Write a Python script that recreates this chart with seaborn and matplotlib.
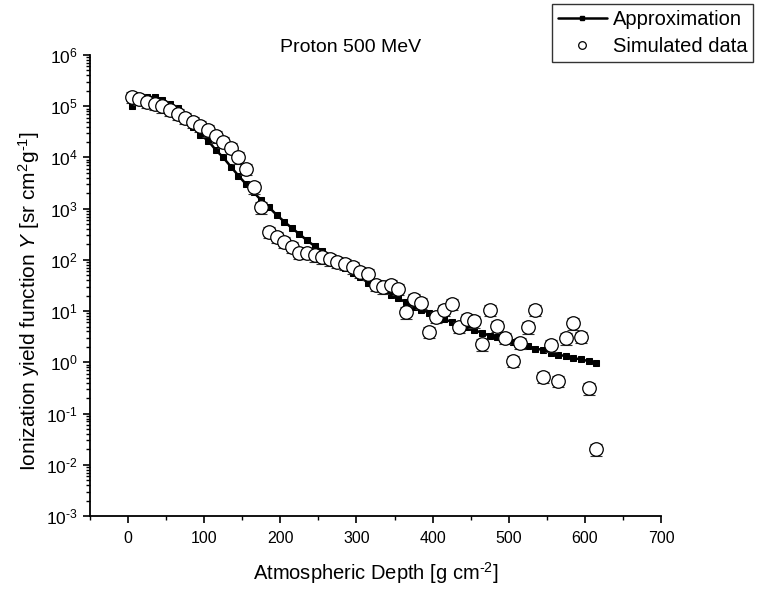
import numpy as np
import pandas as pd
import matplotlib
matplotlib.use("Agg")
import matplotlib.pyplot as plt
from matplotlib.lines import Line2D
from matplotlib.ticker import LogLocator, MultipleLocator, NullFormatter, FuncFormatter
import seaborn as sns

# Atmospheric depth [g cm^-2]
depth = [5, 15, 25, 35, 45, 55, 65, 75, 85, 95,
         105, 115, 125, 135, 145, 155, 165, 175, 185, 195,
         205, 215, 225, 235, 245, 255, 265, 275, 285, 295,
         305, 315, 325, 335, 345, 355, 365, 375, 385, 395,
         405, 415, 425, 435, 445, 455, 465, 475, 485, 495,
         505, 515, 525, 535, 545, 555, 565, 575, 585, 595,
         605, 615]

# Approximation of the yield function
approx = [1.0e5, 1.26e5, 1.51e5, 1.51e5, 1.35e5, 1.12e5, 9.3e4, 6.0e4, 4.0e4, 2.75e4,
          2.14e4, 1.41e4, 1.0e4, 6.6e3, 4.4e3, 3.0e3, 2.1e3, 1.45e3, 1.07e3, 760,
          560, 420, 320, 240, 186, 148, 117, 91, 71, 55,
          46, 36, 30, 25, 21, 17.8, 14.8, 12.3, 10.7, 9.3,
          7.9, 6.9, 6.2, 5.2, 4.8, 4.2, 3.8, 3.3, 3.1, 2.75,
          2.45, 2.24, 2.04, 1.86, 1.74, 1.55, 1.41, 1.32, 1.2, 1.15,
          1.05, 0.95]

# Simulated data
simulated = [1.51e5, 1.38e5, 1.23e5, 1.12e5, 1.0e5, 8.5e4, 7.1e4, 6.0e4, 5.0e4, 4.1e4,
             3.4e4, 2.6e4, 2.0e4, 1.55e4, 1.0e4, 6.0e3, 2.6e3, 1.07e3, 350, 280,
             225, 178, 138, 138, 123, 112, 102, 93, 85, 72,
             58, 54, 33, 29, 33, 27.5, 9.5, 17, 14.5, 3.9,
             7.8, 10.5, 14, 5.0, 7.1, 6.3, 2.24, 10.5, 5.1, 3.0,
             1.07, 2.4, 4.8, 10.7, 0.52, 2.14, 0.44, 2.95, 5.75, 3.16,
             0.31, 0.020]

rel_err = 0.25

df = pd.DataFrame({"depth": depth, "approx": approx, "sim": simulated})

sns.set_theme(style="ticks")
plt.rcParams.update({
    "font.family": ["Liberation Sans", "DejaVu Sans"],
    "mathtext.fontset": "custom",
    "mathtext.rm": "Liberation Sans",
    "mathtext.it": "Liberation Sans:italic",
    "mathtext.bf": "Liberation Sans:bold",
    "axes.unicode_minus": False,
    "axes.edgecolor": "black",
    "axes.linewidth": 1.3,
    "xtick.color": "black",
    "ytick.color": "black",
    "text.color": "black",
    "axes.labelcolor": "black",
    "xtick.direction": "out",
    "ytick.direction": "out",
})

fig = plt.figure(figsize=(7.57, 5.97), dpi=100)
ax = fig.add_axes([90 / 757, 1 - 516 / 597, (661 - 90) / 757, (516 - 55) / 597])

sns.lineplot(data=df, x="depth", y="approx", ax=ax, color="black", linewidth=1.8,
             marker="s", markersize=4.5, markeredgecolor="black", markerfacecolor="black",
             legend=False, zorder=3)

ax.errorbar(df["depth"], df["sim"], yerr=df["sim"] * rel_err, fmt="none",
            ecolor="#333333", elinewidth=0.8, capsize=4.5, capthick=0.8, zorder=4)
sns.scatterplot(data=df, x="depth", y="sim", ax=ax, marker="o", s=95,
                facecolor="white", edgecolor="black", linewidth=0.9,
                legend=False, zorder=5)

ax.set_yscale("log")
ax.set_ylim(1e-3, 1e6)
ax.set_xlim(-50, 700)
ax.xaxis.set_major_locator(MultipleLocator(100))
ax.xaxis.set_minor_locator(MultipleLocator(50))
ax.yaxis.set_major_locator(LogLocator(base=10, numticks=20))
ax.yaxis.set_minor_locator(LogLocator(base=10, subs=np.arange(2, 10), numticks=20))
ax.yaxis.set_minor_formatter(NullFormatter())
ax.yaxis.set_major_formatter(FuncFormatter(
    lambda v, _: r"$10^{\text{%d}}$" % int(round(np.log10(v)))))
ax.tick_params(axis="x", which="major", length=5, width=1.2, labelsize=11.5, pad=6)
ax.tick_params(axis="y", which="major", length=5, width=1.2, labelsize=12.5, pad=4)
ax.tick_params(axis="both", which="minor", length=3, width=1.0)

ax.set_xlabel(r"Atmospheric Depth [g cm$^{\text{-2}}$]", fontsize=14.5, labelpad=10)
ax.set_ylabel(r"Ionization yield function $\it{Y}$ [sr cm$^{2}$g$^{\text{-1}}$]", fontsize=15)
ax.yaxis.set_label_coords(-0.084, 0.466)
ax.text(0.457, 1.017, "Proton 500 MeV", transform=ax.transAxes, ha="center", va="center", fontsize=14)

sns.despine(ax=ax)

handles = [
    Line2D([], [], color="black", linewidth=1.8, marker="s", markersize=3.5),
    Line2D([], [], linestyle="none", marker="o", markersize=5.5,
           markerfacecolor="white", markeredgecolor="black", markeredgewidth=0.9),
]
labels = ["Approximation", "Simulated data"]
leg = fig.legend(handles, labels, loc="upper right", bbox_to_anchor=(0.995, 0.993),
                 fontsize=14.5, frameon=True, fancybox=False, edgecolor="black",
                 handlelength=2.4, borderpad=0.3, labelspacing=0.4, handletextpad=0.3,
                 borderaxespad=0)
leg.get_frame().set_linewidth(1.0)

fig.savefig("out.png", dpi=100)
